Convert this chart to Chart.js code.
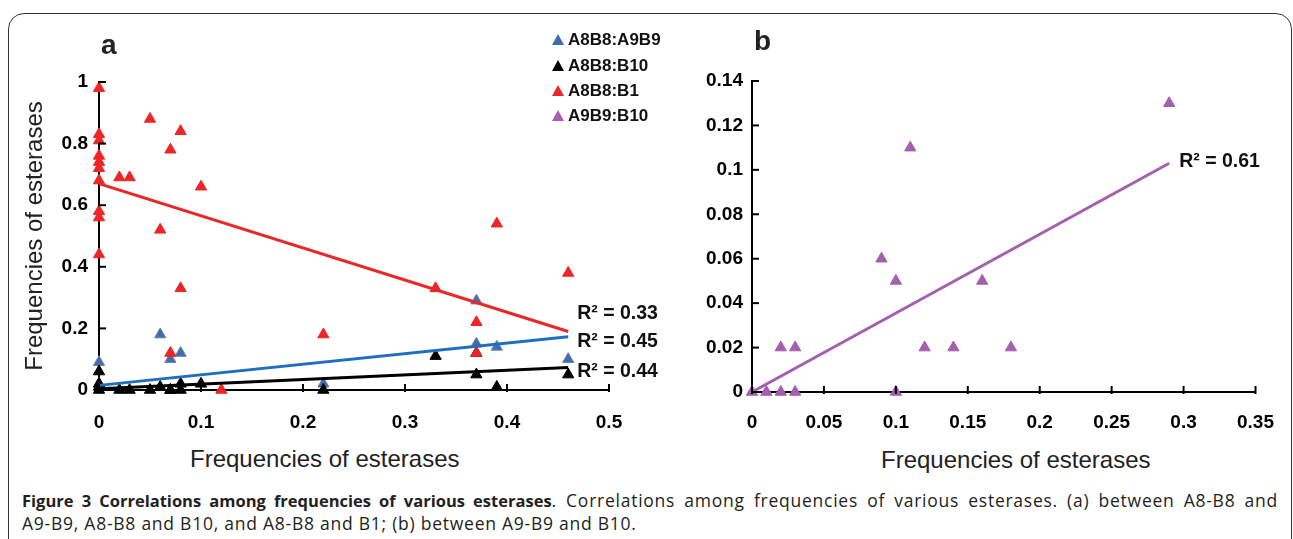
<!DOCTYPE html>
<html>
<head>
<meta charset="utf-8">
<script src="https://cdn.jsdelivr.net/npm/chart.js@4.4.1/dist/chart.umd.min.js"></script>
<style>
  html, body { margin:0; padding:0; background:#fff; }
  body { width:1293px; height:539px; position:relative; overflow:hidden; font-family:'Liberation Sans', Arial, sans-serif; }
  #frame { position:absolute; left:8px; top:13px; width:1284px; height:620px; border:1.5px solid #333; border-radius:16px; box-sizing:border-box; }
  canvas { position:absolute; top:0; }
  #ca { left:0; }
  #cb { left:680px; }
  .panel { position:absolute; font-weight:bold; font-size:28px; color:#222; line-height:1; }
  .xt { position:absolute; font-size:24px; color:#222; white-space:nowrap; line-height:1; }
  .lg { position:absolute; left:552px; height:20px; font-weight:bold; font-size:17px; color:#111; white-space:nowrap; }
  .lg i { position:absolute; left:0; top:4px; width:0; height:0; border-left:6px solid transparent; border-right:6px solid transparent; border-bottom:11px solid; }
  .lg span { position:absolute; left:16px; top:0; line-height:20px; }
  .cap { position:absolute; left:22px; width:1256px; font-family:'Open Sans', sans-serif; font-size:17.5px; letter-spacing:0.75px; color:#231f20; line-height:22px; white-space:nowrap; }
  .cap b { font-size:16.5px; letter-spacing:0; }
  #cap1 { top:489px; text-align:justify; text-align-last:justify; white-space:normal; }
  #cap2 { top:512px; }
</style>
</head>
<body>
<div id="frame"></div>
<canvas id="ca" width="680" height="440"></canvas>
<canvas id="cb" width="613" height="440"></canvas>

<div class="panel" style="left:101px;top:31px;">a</div>
<div class="panel" style="left:754px;top:27px;">b</div>

<div class="lg" style="top:30px;"><i style="border-bottom-color:#3f6db3"></i><span>A8B8:A9B9</span></div>
<div class="lg" style="top:56px;"><i style="border-bottom-color:#000"></i><span>A8B8:B10</span></div>
<div class="lg" style="top:81px;"><i style="border-bottom-color:#e92a2a"></i><span>A8B8:B1</span></div>
<div class="lg" style="top:106px;"><i style="border-bottom-color:#a45fae"></i><span>A9B9:B10</span></div>

<div class="xt" style="left:190px;top:447px;">Frequencies of esterases</div>
<div class="xt" style="left:881px;top:448px;">Frequencies of esterases</div>

<div class="cap" id="cap1"><b>Figure 3 Correlations among frequencies of various esterases</b>. Correlations among frequencies of various esterases. (a) between A8-B8 and</div>
<div class="cap" id="cap2">A9-B9, A8-B8 and B10, and A8-B8 and B1; (b) between A9-B9 and B10.</div>

<script>
const FONT = "'Liberation Sans', Arial, sans-serif";

// panel a: A8-B8 frequency (x) against the other esterases (y)
const xA9B9 = [0, 0, 0.06, 0.07, 0.08, 0.22, 0.37, 0.37, 0.39, 0.46];
const yA9B9 = [0.09, 0.02, 0.18, 0.10, 0.12, 0.02, 0.29, 0.15, 0.14, 0.10];

const xB10 = [0, 0, 0, 0, 0.02, 0.03, 0.05, 0.06, 0.07, 0.07, 0.08, 0.08, 0.10, 0.22, 0.33, 0.37, 0.37, 0.39, 0.46];
const yB10 = [0.06, 0.02, 0.01, 0, 0, 0, 0, 0.01, 0, 0, 0.02, 0, 0.02, 0, 0.11, 0.12, 0.05, 0.01, 0.05];

const xB1 = [0, 0, 0, 0, 0, 0, 0, 0, 0, 0, 0.02, 0.03, 0.05, 0.06, 0.07, 0.07, 0.08, 0.08, 0.10, 0.12, 0.22, 0.33, 0.37, 0.37, 0.39, 0.46];
const yB1 = [0.98, 0.83, 0.81, 0.76, 0.74, 0.72, 0.68, 0.58, 0.56, 0.44, 0.69, 0.69, 0.88, 0.52, 0.78, 0.12, 0.84, 0.33, 0.66, 0, 0.18, 0.33, 0.22, 0.12, 0.54, 0.38];

// linear trend lines (ends)
const trendXA    = [0, 0.46];
const trendB1    = [0.67, 0.19];
const trendA9B9  = [0.015, 0.173];
const trendB10   = [0.004, 0.073];
const r2A        = ['R\u00b2 = 0.33', 'R\u00b2 = 0.45', 'R\u00b2 = 0.44'];

const xTicksA = ['0', '0.1', '0.2', '0.3', '0.4', '0.5'];
const yTicksA = ['0', '0.2', '0.4', '0.6', '0.8', '1'];

// panel b: A9-B9 (x) against B10 (y)
const xA9B9B10 = [0, 0.01, 0.02, 0.03, 0.02, 0.03, 0.09, 0.10, 0.10, 0.11, 0.12, 0.14, 0.16, 0.18, 0.29];
const yA9B9B10 = [0, 0, 0, 0, 0.02, 0.02, 0.06, 0.05, 0, 0.11, 0.02, 0.02, 0.05, 0.02, 0.13];
const trendXB    = [0, 0.29];
const trendB     = [0, 0.103];
const r2B        = ['R\u00b2 = 0.61'];

const xTicksB = ['0', '0.05', '0.1', '0.15', '0.2', '0.25', '0.3', '0.35'];
const yTicksB = ['0', '0.02', '0.04', '0.06', '0.08', '0.1', '0.12', '0.14'];

const pts = (xs, ys) => xs.map((x, i) => ({ x, y: ys[i] }));

const RED = '#ec2626', BLUE = '#3f6db3', BLUE_LINE = '#1f6fc0', PURPLE = '#a45fae';

// excel-style tick marks that point into the plot
const insideTicks = {
  id: 'insideTicks',
  afterDraw(chart) {
    const { ctx, scales: { x, y } } = chart;
    ctx.save();
    ctx.strokeStyle = '#000';
    ctx.lineWidth = 2;
    x.ticks.forEach(t => {
      const px = x.getPixelForValue(t.value);
      ctx.beginPath(); ctx.moveTo(px, x.top + 2); ctx.lineTo(px, x.top - 6); ctx.stroke();
    });
    y.ticks.forEach(t => {
      const py = y.getPixelForValue(t.value);
      ctx.beginPath(); ctx.moveTo(y.right - 1, py); ctx.lineTo(y.right + 7, py); ctx.stroke();
    });
    ctx.restore();
  }
};

// R² text next to the end of each trend line
const r2Labels = {
  id: 'r2Labels',
  afterDraw(chart, args, opts) {
    const { ctx } = chart;
    ctx.save();
    ctx.font = `bold 19.5px ${FONT}`;
    ctx.fillStyle = '#111';
    ctx.textBaseline = 'middle';
    (opts.items || []).forEach(it => {
      const end = chart.getDatasetMeta(it.ds).data[1];
      ctx.fillText(it.text, end.x + it.dx, end.y + it.dy);
    });
    ctx.restore();
  }
};

function tickFont() { return { family: FONT, size: 19, weight: 'bold' }; }

function scatterSet(label, data, color, border) {
  return { type: 'scatter', label, data, pointStyle: 'triangle', pointRadius: 6.5, pointHoverRadius: 6.5,
           backgroundColor: color, borderColor: border || color, borderWidth: 1, clip: false };
}
function trendSet(label, xs, ys, color) {
  return { type: 'line', label, data: pts(xs, ys), borderColor: color, borderWidth: 3, pointRadius: 0,
           fill: false, tension: 0, clip: false };
}

function axes(o) {
  return {
    x: {
      type: 'linear', min: 0, max: o.xMax,
      grid: { display: true, drawOnChartArea: false, drawTicks: false },
      border: { display: true, color: '#000', width: 2 },
      ticks: { stepSize: o.xStep, padding: o.xPad, color: '#000', font: tickFont(), maxRotation: 0,
               autoSkip: false, callback: (v, i) => o.xTicks[i] },
      afterFit: s => { s.height = o.xH; },
    },
    y: {
      type: 'linear', min: 0, max: o.yMax,
      grid: { display: true, drawOnChartArea: false, drawTicks: false },
      border: { display: true, color: '#000', width: 2 },
      ticks: { stepSize: o.yStep, padding: o.yPad, color: '#000', font: tickFont(), autoSkip: false,
               callback: (v, i) => o.yTicks[i] },
      title: o.yTitle ? { display: true, text: o.yTitle, color: '#222', font: { family: FONT, size: 24 },
                          padding: { top: 21, bottom: 0 } } : { display: false },
      afterFit: s => { s.width = o.yW; },
    },
  };
}

new Chart(document.getElementById('ca'), {
  type: 'scatter',
  data: {
    datasets: [
      trendSet('B1 trend', trendXA, trendB1, RED),
      trendSet('A9B9 trend', trendXA, trendA9B9, BLUE_LINE),
      trendSet('B10 trend', trendXA, trendB10, '#000'),
      scatterSet('A8B8:B1', pts(xB1, yB1), RED),
      scatterSet('A8B8:B10', pts(xB10, yB10), '#000'),
      scatterSet('A8B8:A9B9', pts(xA9B9, yA9B9), BLUE, '#7080a8'),
    ],
  },
  options: {
    responsive: false, animation: false, events: [],
    layout: { padding: { top: 82, right: 71, left: 0, bottom: 0 } },
    plugins: {
      legend: { display: false }, tooltip: { enabled: false },
      r2Labels: { items: [
        { ds: 0, text: r2A[0], dx: 9, dy: -18 },
        { ds: 1, text: r2A[1], dx: 9, dy: 5 },
        { ds: 2, text: r2A[2], dx: 9, dy: 4 },
      ] },
    },
    scales: axes({ xMax: 0.5, xStep: 0.1, xTicks: xTicksA, xPad: 21, xH: 50,
                   yMax: 1, yStep: 0.2, yTicks: yTicksA, yPad: 11, yW: 99,
                   yTitle: 'Frequencies of esterases' }),
  },
  plugins: [insideTicks, r2Labels],
});

new Chart(document.getElementById('cb'), {
  type: 'scatter',
  data: {
    datasets: [
      trendSet('A9B9:B10 trend', trendXB, trendB, PURPLE),
      scatterSet('A9B9:B10', pts(xA9B9B10, yA9B9B10), PURPLE),
    ],
  },
  options: {
    responsive: false, animation: false, events: [],
    layout: { padding: { top: 81, right: 33, left: 0, bottom: 0 } },
    plugins: {
      legend: { display: false }, tooltip: { enabled: false },
      r2Labels: { items: [ { ds: 0, text: r2B[0], dx: 10, dy: -2 } ] },
    },
    scales: axes({ xMax: 0.35, xStep: 0.05, xTicks: xTicksB, xPad: 19, xH: 48,
                   yMax: 0.14, yStep: 0.02, yTicks: yTicksB, yPad: 9, yW: 72 }),
  },
  plugins: [insideTicks, r2Labels],
});
</script>
</body>
</html>
